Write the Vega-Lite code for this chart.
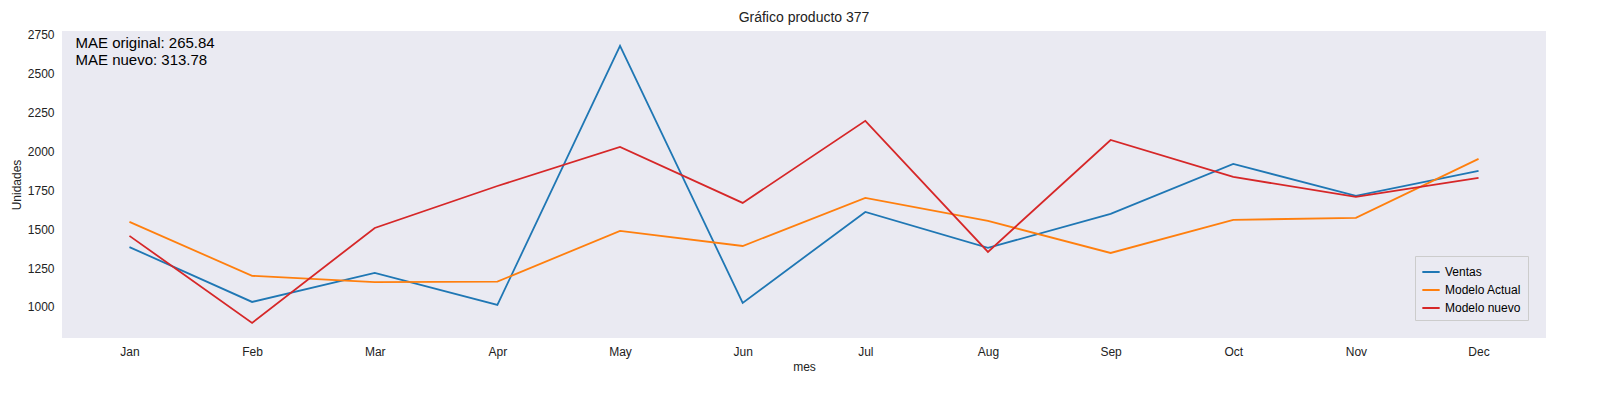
{
"$schema":"https://vega.github.io/schema/vega-lite/v6.json",
"width":1484,"height":307,
"padding":{"left":10,"top":10,"right":5,"bottom":5},
"background":"white",
"title":{"text":"Gráfico producto 377","fontSize":14,"font":"Liberation Sans","fontWeight":"normal","color":"#222"},
"config":{"view":{"fill":"#EAEAF2","stroke":null},"font":"Liberation Sans",
"axis":{"grid":false,"domain":false,"ticks":false,"labelFontSize":12,"titleFontSize":12,"titleFontWeight":"normal","labelColor":"#222","titleColor":"#222","labelPadding":8,"labelFont":"Liberation Sans","titleFont":"Liberation Sans"}},
"data":{"values":[
{"mes":"Jan","s":"Ventas","v":1385},{"mes":"Feb","s":"Ventas","v":1032},{"mes":"Mar","s":"Ventas","v":1219},{"mes":"Apr","s":"Ventas","v":1013},{"mes":"May","s":"Ventas","v":2679},{"mes":"Jun","s":"Ventas","v":1026},{"mes":"Jul","s":"Ventas","v":1611},{"mes":"Aug","s":"Ventas","v":1380},{"mes":"Sep","s":"Ventas","v":1598},{"mes":"Oct","s":"Ventas","v":1920},{"mes":"Nov","s":"Ventas","v":1714},{"mes":"Dec","s":"Ventas","v":1875},
{"mes":"Jan","s":"Modelo Actual","v":1547},{"mes":"Feb","s":"Modelo Actual","v":1200},{"mes":"Mar","s":"Modelo Actual","v":1160},{"mes":"Apr","s":"Modelo Actual","v":1163},{"mes":"May","s":"Modelo Actual","v":1489},{"mes":"Jun","s":"Modelo Actual","v":1392},{"mes":"Jul","s":"Modelo Actual","v":1701},{"mes":"Aug","s":"Modelo Actual","v":1553},{"mes":"Sep","s":"Modelo Actual","v":1347},{"mes":"Oct","s":"Modelo Actual","v":1560},{"mes":"Nov","s":"Modelo Actual","v":1573},{"mes":"Dec","s":"Modelo Actual","v":1952},
{"mes":"Jan","s":"Modelo nuevo","v":1457},{"mes":"Feb","s":"Modelo nuevo","v":897},{"mes":"Mar","s":"Modelo nuevo","v":1508},{"mes":"Apr","s":"Modelo nuevo","v":1778},{"mes":"May","s":"Modelo nuevo","v":2029},{"mes":"Jun","s":"Modelo nuevo","v":1669},{"mes":"Jul","s":"Modelo nuevo","v":2197},{"mes":"Aug","s":"Modelo nuevo","v":1354},{"mes":"Sep","s":"Modelo nuevo","v":2074},{"mes":"Oct","s":"Modelo nuevo","v":1836},{"mes":"Nov","s":"Modelo nuevo","v":1708},{"mes":"Dec","s":"Modelo nuevo","v":1830}
]},
"encoding":{
"x":{"field":"mes","type":"ordinal","scale":{"type":"point","padding":0.55,"domain":["Jan","Feb","Mar","Apr","May","Jun","Jul","Aug","Sep","Oct","Nov","Dec"]},"axis":{"labelAngle":0,"title":"mes"}},
"y":{"field":"v","type":"quantitative","scale":{"domain":[800,2775],"nice":false,"zero":false},"axis":{"values":[1000,1250,1500,1750,2000,2250,2500,2750],"title":"Unidades","format":"d"}}
},
"layer":[
{"mark":{"type":"line","strokeWidth":1.8},
"encoding":{
"color":{"field":"s","type":"nominal","scale":{"domain":["Ventas","Modelo Actual","Modelo nuevo"],"range":["#1f77b4","#ff7f0e","#d62728"]},
"legend":{"title":null,"orient":"bottom-right","symbolType":"stroke","symbolStrokeWidth":2,"labelFontSize":12,"labelFont":"Liberation Sans","fillColor":"#EAEAF2","strokeColor":"#ccc","padding":6,"symbolSize":300}}}},
{"data":{"values":[{"mes":"Jan","v":2745,"t":["MAE original: 265.84","MAE nuevo: 313.78"]}]},
"mark":{"type":"text","align":"left","baseline":"top","dx":-54,"fontSize":15,"color":"black","lineHeight":17,"font":"Liberation Sans"},
"encoding":{"text":{"field":"t"}}}
]
}
